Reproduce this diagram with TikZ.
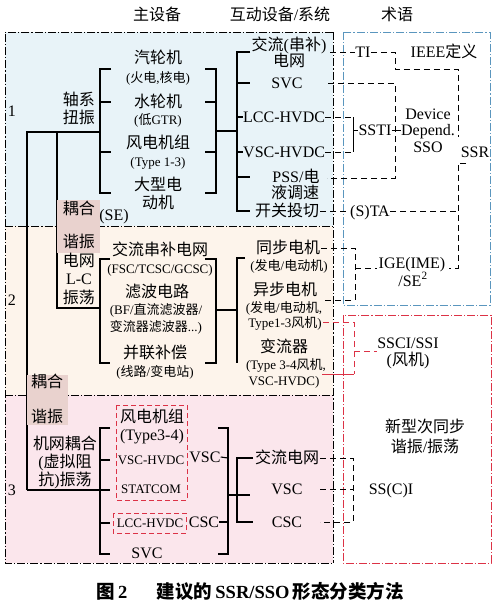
\documentclass[tikz,border=0pt]{standalone}
\usepackage{fontspec}
\setmainfont{Liberation Serif}
\newfontfamily\cjk{Noto Sans CJK SC}
\newcommand\zh[1]{{\cjk #1}}
\definecolor{rone}{RGB}{232,243,248}
\definecolor{rtwo}{RGB}{253,244,235}
\definecolor{rthree}{RGB}{251,230,236}
\definecolor{shadecol}{RGB}{233,210,206}
\definecolor{bline}{RGB}{90,150,190}
\definecolor{rline}{RGB}{220,50,70}
\begin{document}
\begin{tikzpicture}[x=1pt,y=-1pt,
 big/.style={font=\fontsize{16}{18}\selectfont, inner sep=0pt, text height=12.5pt, text depth=2.5pt},
 sm/.style={font=\fontsize{13}{15}\selectfont, inner sep=0pt, text height=10pt, text depth=2pt},
 tree/.style={line width=1.1pt, black},
 dd/.style={line width=0.9pt, dash pattern=on 8pt off 2pt on 1.2pt off 2pt},
 cn/.style={line width=1pt, dash pattern=on 6pt off 4pt},
]
\useasboundingbox (0,0) rectangle (496,606);
% region fills
\fill[rone] (5,32) rectangle (333,226);
\fill[rtwo] (5,226) rectangle (333,395);
\fill[rthree] (5,395) rectangle (333,563);
\draw[dd] (333,32) -- (5,32) -- (5,563) -- (333,563);
\draw[dd] (5,226) -- (333,226);
\draw[dd] (5,395) -- (333,395);
\draw[dd] (333,32) -- (333,563);
\draw[dd, bline] (343,32) rectangle (490,305);
\draw[dd, rline] (343,315) rectangle (491,563);

% headers
\node[big] (h1) at (157,15) {\zh{主设备}};
\node[big] (h2) at (280,15) {\zh{互动设备}/\zh{系统}};
\node[big] (h3) at (397,15) {\zh{术语}};

% left tree
\draw[tree] (27,490) -- (27,132) -- (100,132);
\draw[tree] (57,132) -- (57,308) -- (100,308);
\draw[tree] (27,490) -- (110,490);

% region 1 brackets
\draw[tree] (111,69) -- (100,69) -- (100,193) -- (111,193);
\draw[tree] (100,102) -- (111,102);
\draw[tree] (100,152) -- (111,152);
\draw[tree] (205,69) -- (216,69) -- (216,193) -- (205,193);
\draw[tree] (216,102) -- (205,102);
\draw[tree] (216,152) -- (205,152);
\draw[tree] (216,131) -- (237,131);
\draw[tree] (250,52) -- (237,52) -- (237,211) -- (250,211);
\draw[tree] (237,83) -- (250,83);
\draw[tree] (237,177) -- (250,177);

% region 2 brackets
\draw[tree] (110,259) -- (100,259) -- (100,363) -- (110,363);
\draw[tree] (205,259) -- (216,259) -- (216,363) -- (205,363);
\draw[tree] (216,310) -- (237,310);
\draw[tree] (245,258) -- (237,258) -- (237,363);

% region 3 brackets
\draw[tree] (110,428) -- (100,428) -- (100,554) -- (110,554);
\draw[tree] (100,460) -- (110,460);
\draw[tree] (100,523) -- (110,523);
\draw[tree] (218,428) -- (228,428) -- (228,554) -- (218,554);
\draw[tree] (228,495) -- (250,495);
\draw[tree] (253,458) -- (237,458) -- (237,522) -- (253,522);

% shaded boxes
\fill[shadecol] (57,200) rectangle (100,253);
\fill[shadecol] (27,375) rectangle (68,425);

% red dashed boxes
\draw[rline, line width=1pt, dash pattern=on 5pt off 3pt] (116,405) rectangle (187,500);
\draw[rline, line width=1pt, dash pattern=on 5pt off 3pt] (113,513) rectangle (186,533);

% region numbers
\node[big] (n1) at (12,111) {1};
\node[big] (n2) at (12,300) {2};
\node[big] (n3) at (12,490) {3};

% region 1 text
\node[big] (zx1) at (79,100) {\zh{轴系}};
\node[big] (zx2) at (79,118) {\zh{扭振}};
\node[big] (qlj) at (158,58) {\zh{汽轮机}};
\node[sm] (qljs) at (158,78) {(\zh{火电},\zh{核电})};
\node[big] (slj) at (158,102) {\zh{水轮机}};
\node[sm] (sljs) at (158,120) {(\zh{低}GTR)};
\node[big] (fd) at (158,143) {\zh{风电机组}};
\node[sm] (fds) at (158,162) {(Type 1-3)};
\node[big] (dx1) at (158,185) {\zh{大型电}};
\node[big] (dx2) at (158,203) {\zh{动机}};

\node[big] (jl1) at (289,45) {\zh{交流}(\zh{串补})};
\node[big] (jl2) at (289,61) {\zh{电网}};
\node[big] (svc1) at (287,83) {SVC};
\node[big, anchor=west] (lcc1) at (243,117) {LCC-HVDC};
\node[big, anchor=west] (vsc1) at (243,152) {VSC-HVDC};
\node[big] (pss1) at (296,177) {PSS/\zh{电}};
\node[big] (pss2) at (295,193) {\zh{液调速}};
\node[big] (kg) at (287,211) {\zh{开关投切}};
\draw[tree] (237,117) -- (lcc1.west);
\draw[tree] (237,152) -- (vsc1.west);

% region 2 text
\node[big] (ou1) at (79,209) {\zh{耦合}};
\node[big] (xz1) at (79,242) {\zh{谐振}};
\node[big] (se) at (114,215) {(SE)};
\node[big] (dw) at (79,261) {\zh{电网}};
\node[big] (lc) at (79,279) {L-C};
\node[big] (zd) at (79,298) {\zh{振荡}};
\node[big] (jlcb) at (160,250) {\zh{交流串补电网}};
\node[sm] (fsc) at (160,269) {(FSC/TCSC/GCSC)};
\node[big] (lb) at (157,292) {\zh{滤波电路}};
\node[sm] (bf) at (156,310) {(BF/\zh{直流滤波器}/};
\node[sm] (bl) at (156,327) {\zh{变流器滤波器}...)};
\node[big] (bl2) at (155,353) {\zh{并联补偿}};
\node[sm] (xl) at (155,372) {(\zh{线路}/\zh{变电站})};
\node[big] (tb) at (288,248) {\zh{同步电机}};
\node[sm] (tbs) at (289,266) {(\zh{发电}/\zh{电动机})};
\node[big] (yb) at (285,290) {\zh{异步电机}};
\node[sm] (ybs1) at (284,308) {(\zh{发电}/\zh{电动机},};
\node[sm] (ybs2) at (285,323) {Type1-3\zh{风机})};
\node[big] (blq) at (284,347) {\zh{变流器}};
\node[sm] (blqs1) at (286,365) {(Type 3-4\zh{风机},};
\node[sm] (blqs2) at (284,381) {VSC-HVDC)};

% region 3 text
\node[big] (ou2) at (47,382) {\zh{耦合}};
\node[big] (xz2) at (47,417) {\zh{谐振}};
\node[big] (jw1) at (65,444) {\zh{机网耦合}};
\node[big] (jw2) at (65,462) {(\zh{虚拟阻}};
\node[big] (jw3) at (65,480) {\zh{抗})\zh{振荡}};
\node[big] (fd3) at (152,417) {\zh{风电机组}};
\node[big] (t34) at (152,435) {(Type3-4)};
\node[sm] (vh3) at (151,460) {VSC-HVDC};
\node[sm] (stc) at (151,489) {STATCOM};
\node[sm] (lcc3) at (150,523) {LCC-HVDC};
\node[big] (svc3) at (147,553) {SVC};
\node[big] (vsc3) at (205,457) {VSC};
\node[big] (csc3) at (204,522) {CSC};
\draw[tree] (vsc3.east) -- (228,458);
\draw[tree] (csc3.east) -- (228,522);
\node[big] (jldw) at (287,458) {\zh{交流电网}};
\node[big] (vsc4) at (287,489) {VSC};
\node[big] (csc4) at (287,522) {CSC};

% terms
\node[big] (ti) at (363,52) {TI};
\node[big] (ieee) at (444,52) {IEEE\zh{定义}};
\node[big] (dev1) at (428,114) {Device};
\node[big] (dev2) at (428,130) {Depend.};
\node[big] (dev3) at (428,147) {SSO};
\node[big] (ssti) at (375,130) {SSTI};
\node[big] (ssr) at (475,152) {SSR};
\node[big] (sta) at (370,211) {(S)TA};
\node[big] (ige) at (412,263) {IGE(IME)};
\node[big] (se2) at (413,281) {/SE\textsuperscript{2}};
\node[big] (ssci) at (408,343) {SSCI/SSI};
\node[big] (ssci2) at (408,360) {(\zh{风机})};
\node[big] (sscl) at (391,489) {SS(C)I};
\node[big] (new1) at (425,427) {\zh{新型次同步}};
\node[big] (new2) at (425,447) {\zh{谐振}/\zh{振荡}};

% term connectors
\draw[cn] (330,52) -- (ti.west);
\draw[cn] (ti.east) -- (395,52) -- (395,69) -- (458,69) -- (458,137);
\draw[cn] (466,163) -- (458,163) -- (458,268) -- (449,268);
\draw[cn] (328,83) -- (395,83) -- (395,178) -- (327,178);
\draw[cn] (lcc1.east) -- (353,117);
\draw[cn] (vsc1.east) -- (353,152);
\draw[tree, line width=1pt] (353,117) -- (353,152);
\draw[tree, line width=1pt] (353,130) -- (ssti.west);
\draw[tree, line width=1pt] (ssti.east) -- (dev2.west);
\draw[cn] (320,211) -- (sta.west);
\draw[cn] (sta.east) -- (458,211);
\draw[cn] (321,248) -- (355,248) -- (355,300) -- (322,300);
\draw[cn] (355,268) -- (377,268);
\draw[cn, rline] (323,322) -- (354,322) -- (354,374);
\draw[rline, line width=1pt] (322,374) -- (354,374);
\draw[cn, rline] (354,351) -- (377,351);
\draw[cn] (320,458) -- (353,458) -- (353,522) -- (320,522);
\draw[cn] (320,489) -- (353,489);

% caption
\node[font=\fontsize{18.5}{21}\selectfont\bfseries, inner sep=0pt] (cap) at (250,591)
 {\zh{图}\,2\hspace{1.6em}\zh{建议的}\,SSR/SSO\,\zh{形态分类方法}};
\end{tikzpicture}
\end{document}
